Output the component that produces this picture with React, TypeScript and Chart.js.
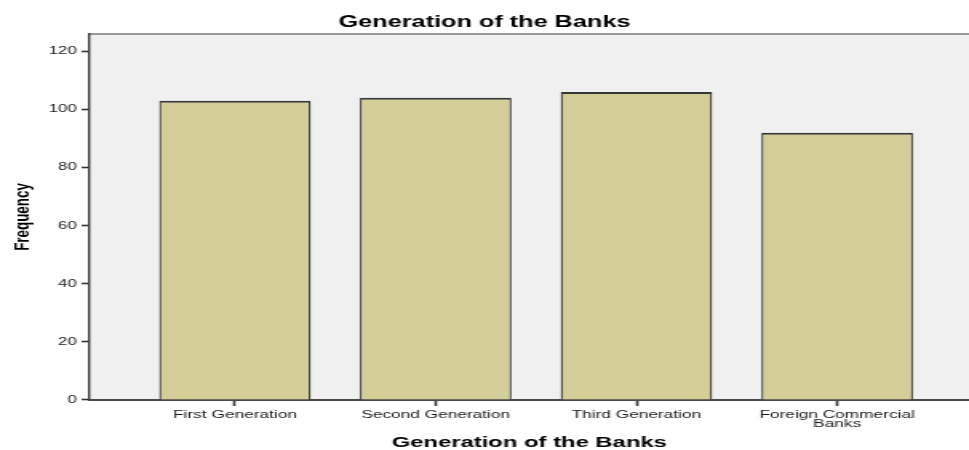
import React, { useEffect, useRef } from "react";
import { Chart, registerables } from "chart.js";

Chart.register(...registerables);

const categories: (string | string[])[] = [
  "First Generation",
  "Second Generation",
  "Third Generation",
  ["Foreign Commercial", "Banks"],
];
const frequencies: number[] = [103, 104, 106, 92];
const yTickStep = 20;
const titleText = "Generation of the Banks";
const xTitleText = "Generation of the Banks";
const yTitleText = "Frequency";

// The reference image is horizontally stretched; draw narrow and stretch with CSS.
const DISPLAY_W = 969;
const DISPLAY_H = 450;
const DRAW_W = 606;

const FONT = "'Liberation Sans', Arial, sans-serif";

const plotBackground = {
  id: "plotBackground",
  beforeDraw(chart: any) {
    const { ctx, chartArea, width, height } = chart;
    ctx.save();
    ctx.fillStyle = "#ffffff";
    ctx.fillRect(0, 0, width, height);
    ctx.fillStyle = "#f0f0f0";
    ctx.fillRect(chartArea.left, chartArea.top, chartArea.right - chartArea.left, chartArea.bottom - chartArea.top);
    ctx.strokeStyle = "#7a7a7a";
    ctx.lineWidth = 1.5;
    ctx.beginPath();
    ctx.moveTo(chartArea.left, chartArea.top);
    ctx.lineTo(chartArea.right, chartArea.top);
    ctx.stroke();
    ctx.restore();
  },
};

export default function App() {
  const ref = useRef<HTMLCanvasElement>(null);

  useEffect(() => {
    document.body.style.margin = "0";
    const canvas = ref.current;
    if (!canvas) return;
    const data = frequencies.map((v, i) => ({ x: i + 1, y: v }));
    const chart = new Chart(canvas, {
      type: "bar",
      data: {
        datasets: [
          {
            data: data as any,
            backgroundColor: "#d3ce97",
            borderColor: "#363636",
            borderWidth: { top: 2, left: 1.3, right: 1.3, bottom: 0 } as any,
            borderSkipped: false as any,
            barPercentage: 0.755,
            categoryPercentage: 1,
          },
        ],
      },
      options: {
        animation: false,
        responsive: false,
        devicePixelRatio: 1,
        layout: { padding: 0 },
        plugins: {
          legend: { display: false },
          tooltip: { enabled: false },
          title: {
            display: true,
            text: titleText,
            color: "#000",
            font: { family: FONT, size: 15.8, weight: "bold" },
            padding: { top: 13, bottom: 2 },
          },
        },
        scales: {
          x: {
            type: "linear",
            offset: false,
            min: 0.2755,
            max: 4.657,
            afterBuildTicks(axis: any) {
              axis.ticks = categories.map((_, i) => ({ value: i + 1 }));
            },
            afterFit(axis: any) {
              axis.height = 50;
            },
            ticks: {
              autoSkip: false,
              maxRotation: 0,
              minRotation: 0,
              padding: 4,
              color: "#1a1a1a",
              font: { family: FONT, size: 10.8, lineHeight: 0.85 },
              callback: (value: any) => categories[Math.round(value) - 1] as any,
            },
            grid: {
              display: true,
              offset: false,
              drawOnChartArea: false,
              drawTicks: true,
              tickLength: 6,
              tickWidth: 1.6,
              tickColor: "#333",
              color: "#333",
            },
            border: { display: true, color: "#4a4a4a", width: 2 },
            title: {
              display: true,
              text: xTitleText,
              color: "#000",
              font: { family: FONT, size: 14.9, weight: "bold", lineHeight: 0.9 },
              padding: { top: 0, bottom: 0 },
            },
          },
          y: {
            type: "linear",
            min: 0,
            max: 126,
            afterBuildTicks(axis: any) {
              axis.ticks = axis.ticks.filter((t: any) => t.value % yTickStep === 0);
            },
            afterFit(axis: any) {
              axis.width = 56;
            },
            ticks: {
              stepSize: yTickStep,
              padding: 3,
              color: "#1a1a1a",
              font: { family: FONT, size: 10.5 },
            },
            grid: {
              display: true,
              drawOnChartArea: false,
              drawTicks: true,
              tickLength: 5,
              tickWidth: 1.6,
              tickColor: "#333",
              color: "#333",
            },
            border: { display: true, color: "#3a3a3a", width: 1.4 },
            title: {
              display: true,
              text: yTitleText,
              color: "#000",
              font: { family: FONT, size: 13.4, weight: "bold" },
              padding: { top: 6, bottom: 0 },
            },
          },
        },
      },
      plugins: [plotBackground],
    });
    return () => chart.destroy();
  }, []);

  return (
    <div style={{ width: DISPLAY_W, height: DISPLAY_H }}>
      <canvas
        ref={ref}
        width={DRAW_W}
        height={DISPLAY_H}
        style={{ width: `${DISPLAY_W}px`, height: `${DISPLAY_H}px`, display: "block" }}
      />
    </div>
  );
}
